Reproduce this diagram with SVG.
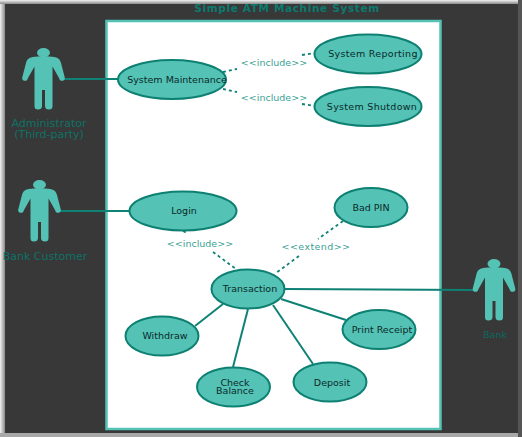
<svg xmlns="http://www.w3.org/2000/svg" xmlns:xlink="http://www.w3.org/1999/xlink" width="522" height="437" viewBox="0 0 522 437">
<defs>
<linearGradient id="leftEdge" x1="0" x2="1" y1="0" y2="0"><stop offset="0" stop-color="#f2f2f2"/><stop offset="1" stop-color="#8a8a8a"/></linearGradient>
<linearGradient id="topEdge" x1="0" x2="0" y1="0" y2="1"><stop offset="0" stop-color="#f2f2f2"/><stop offset="1" stop-color="#8a8a8a"/></linearGradient>
<g id="actor">
<ellipse cx="0" cy="-22.300" rx="6.500" ry="4.600"/>
<path d="M-11-18C-5-19 5-19 11-18C15-17 16.500-15.500 17.500-12L21 1.500C22 4.500 20.500 5.800 18.500 5.800C17 5.800 16 5 15.500 3L9-8.500L9 31C9 33.500 8 34.500 5.500 34.500C3 34.500 1.500 33.500 1.500 31L1.500 15L-1.500 15L-1.500 31C-1.500 33.500-3 34.500-5.500 34.500C-8 34.500-9 33.500-9 31L-9-8.500L-15.500 3C-16 5-17 5.800-18.500 5.800C-20.500 5.800-22 4.500-21 1.500L-17.500-12C-16.500-15.500-15-17-11-18Z"/>
</g>
</defs>
<style>
text{font-family:"DejaVu Sans",sans-serif}
.uc{fill:#54c2b5;stroke:#0d8072;stroke-width:2}
.t{font-size:9.500px;fill:#0b2a2a;text-anchor:middle}
.w{letter-spacing:0.300px}
.rel{font-size:9.500px;fill:#3a9f94;text-anchor:middle}
.act{font-size:11px;fill:#0c7267;text-anchor:middle}
.solid{fill:none;stroke:#0f8175;stroke-width:2}
.dash{fill:none;stroke:#0f8175;stroke-width:1.800;stroke-dasharray:3 3}
.fig{fill:#54c2b5}
</style>
<rect id="background" width="522" height="437" fill="#383838"/>
<rect x="0" y="0" width="5" height="437" fill="url(#leftEdge)"/>
<rect x="0" y="0" width="522" height="4" fill="url(#topEdge)"/>
<rect x="0" y="433" width="522" height="4" fill="#a8a8a8"/>
<rect x="518" y="0" width="4" height="437" fill="#555555"/>
<rect id="boundary" x="106.500" y="21" width="334" height="408" fill="#ffffff" stroke="#54c2b5" stroke-width="2.500"/>
<text x="287" y="12" font-size="10.500" font-weight="bold" fill="#0c7a6e" text-anchor="middle" letter-spacing="0.650">Simple ATM Machine System</text>
<g id="connectors">
<path class="solid" d="M64 79H118"/>
<path class="solid" d="M60 211H130"/>
<path class="solid" d="M285 289L473 290"/>
<path class="solid" d="M223 304L195 326"/>
<path class="solid" d="M248 309L233 367"/>
<path class="solid" d="M273 305L313 364"/>
<path class="solid" d="M281 299L346 320"/>
<path class="dash" d="M223 72L237 69"/>
<path class="dash" d="M302 55L314 53"/>
<path class="dash" d="M223 89L237 92"/>
<path class="dash" d="M302 104L314 106"/>
<path class="dash" d="M183 231L187 233"/>
<path class="dash" d="M213 252L236 269"/>
<path class="dash" d="M343 221L318 239"/>
<path class="dash" d="M299 256L276 273"/>
</g>
<text class="rel" x="274" y="66">&lt;&lt;include&gt;&gt;</text>
<text class="rel" x="274" y="101">&lt;&lt;include&gt;&gt;</text>
<text class="rel" x="200" y="247">&lt;&lt;include&gt;&gt;</text>
<text class="rel" x="316" y="250" letter-spacing="0.400">&lt;&lt;extend&gt;&gt;</text>
<g id="admin"><use xlink:href="#actor" href="#actor" class="fig" x="43.500" y="75"/><text class="act" x="49" y="127">Administrator</text><text class="act" x="49" y="138">(Third-party)</text></g>
<g id="customer"><use xlink:href="#actor" href="#actor" class="fig" x="39.500" y="207"/><text class="act" x="45" y="260">Bank Customer</text></g>
<g id="bank"><use xlink:href="#actor" href="#actor" class="fig" x="494" y="286"/><text class="act" x="495" y="338" style="font-size:9.500px;fill:#0c6a60">Bank</text></g>
<g id="sysmaint"><ellipse class="uc" cx="172" cy="79.500" rx="54" ry="19.500"/><text class="t" x="177" y="83">System Maintenance</text></g>
<g id="sysrep"><ellipse class="uc" cx="368" cy="54" rx="53.500" ry="19.500"/><text class="t w" x="373" y="57">System Reporting</text></g>
<g id="sysshut"><ellipse class="uc" cx="368" cy="106.500" rx="53.500" ry="19.500"/><text class="t w" x="372" y="110">System Shutdown</text></g>
<g id="login"><ellipse class="uc" cx="183" cy="211" rx="53.500" ry="19.500"/><text class="t" x="184" y="214">Login</text></g>
<g id="badpin"><ellipse class="uc" cx="371" cy="207.500" rx="36.500" ry="19.500"/><text class="t" x="371" y="211">Bad PIN</text></g>
<g id="transaction"><ellipse class="uc" cx="248" cy="289" rx="36.500" ry="19.500"/><text class="t" x="250" y="292">Transaction</text></g>
<g id="withdraw"><ellipse class="uc" cx="162" cy="336" rx="36.500" ry="19.500"/><text class="t" x="165" y="339">Withdraw</text></g>
<g id="print"><ellipse class="uc" cx="379" cy="329.500" rx="36.500" ry="19.500"/><text class="t" x="382" y="333">Print Receipt</text></g>
<g id="balance"><ellipse class="uc" cx="233.500" cy="387" rx="36.500" ry="19.500"/><text class="t" x="235" y="386">Check</text><text class="t" x="235" y="393.500">Balance</text></g>
<g id="deposit"><ellipse class="uc" cx="330" cy="382" rx="36.500" ry="19.500"/><text class="t" x="332" y="386">Deposit</text></g>
</svg>
